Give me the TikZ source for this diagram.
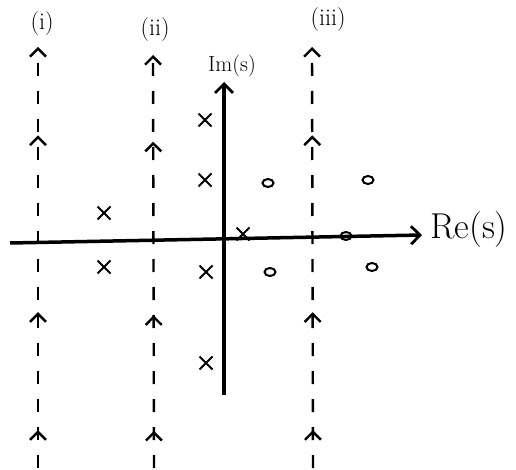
\documentclass[tikz,border=0pt]{standalone}
\usepackage{fontspec}
\usepackage{tikz}
\usetikzlibrary{arrows.meta, positioning, shapes.misc, shapes.geometric, decorations.markings}

\begin{document}
\begin{tikzpicture}[
  x=1pt, y=-1pt,
  axis/.style={line width=3.5pt, -{Straight Barb[length=9pt, width=18pt, line width=2.8pt]}},
  contour/.style={line width=2.4pt, dash pattern=on 13pt off 15pt,
    -{Straight Barb[length=8pt, width=16pt, line width=2.4pt]},
    postaction={decorate, decoration={markings,
      mark=at position 0.09 with {\arrow{Straight Barb[length=8pt, width=16pt, line width=2.4pt]}},
      mark=at position 0.37 with {\arrow{Straight Barb[length=8pt, width=16pt, line width=2.4pt]}},
      mark=at position 0.79 with {\arrow{Straight Barb[length=8pt, width=16pt, line width=2.4pt]}}}}},
  pole/.style={cross out, draw, line width=2pt, minimum size=11pt, inner sep=0pt},
  zero/.style={ellipse, draw, line width=2pt, minimum width=11pt, minimum height=8pt, inner sep=0pt},
  lbl/.style={font=\fontsize{24}{26}\selectfont, inner sep=0pt},
]
  \useasboundingbox (0,0) rectangle (516,470);

  % axes
  \coordinate (re-start) at (10,243);
  \coordinate (re-end) at (422,235);
  \coordinate (im-start) at (224,395);
  \coordinate (im-end) at (224,82);
  \draw[axis] (re-start) -- (re-end);
  \draw[axis] (im-start) -- (im-end);
  \node[font=\fontsize{36}{38}\selectfont, anchor=west, inner sep=0pt] (re) at (430,230) {Re(s)};
  \node[lbl, font=\fontsize{22}{24}\selectfont] (im) at (232,66) {Im(s)};

  % contours
  \coordinate (c1-bot) at (38,468);
  \coordinate (c1-top) at (38,47);
  \coordinate (c2-bot) at (154,468);
  \coordinate (c2-top) at (153,55);
  \coordinate (c3-bot) at (313,468);
  \coordinate (c3-top) at (312,47);
  \draw[contour] (c1-bot) -- (c1-top);
  \draw[contour] (c2-bot) -- (c2-top);
  \draw[contour] (c3-bot) -- (c3-top);
  \node[lbl] (l1) at (42,24) {(i)};
  \node[lbl] (l2) at (155,30) {(ii)};
  \node[lbl] (l3) at (328,20) {(iii)};

  % poles
  \node[pole] (p1) at (104,213) {};
  \node[pole] (p2) at (104,267) {};
  \node[pole] (p3) at (205,120) {};
  \node[pole] (p4) at (205,180) {};
  \node[pole] (p5) at (206,272) {};
  \node[pole] (p6) at (206,363) {};
  \node[pole] (p7) at (243,234) {};

  % zeros
  \node[zero] (z1) at (268,183) {};
  \node[zero] (z2) at (368,180) {};
  \node[zero] (z3) at (270,272) {};
  \node[zero] (z4) at (372,267) {};
  \node[zero] (z5) at (346,236) {};
\end{tikzpicture}
\end{document}
